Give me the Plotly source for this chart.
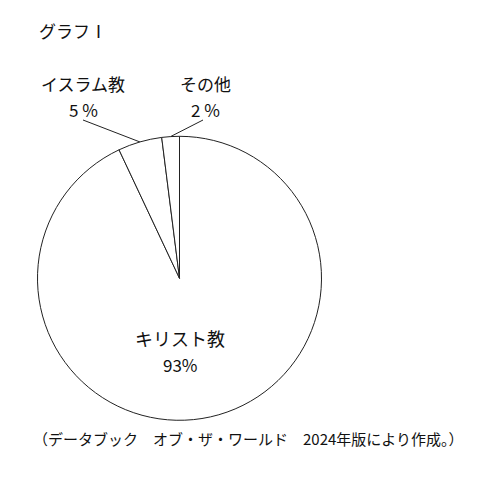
import math
import plotly.graph_objects as go

# data (clockwise from 12 o'clock)
labels = ["キリスト教", "イスラム教", "その他"]
shares = [93, 5, 2]
share_text = ["93%", "5 %", "2 %"]

title_text = "グラフⅠ"
source_text = "（データブック　オブ・ザ・ワールド　2024年版により作成。）"

W, H = 496, 487
OFF = 8  # page body margin
FONT = "Noto Sans CJK JP"
INK = "#111111"

# pie geometry in page pixels
cx, cy, R = 179.5, 278.3, 142.0


def px(x):
    return (x - OFF) / W


def py(y):
    return 1 - (y - OFF) / H


def add_text(fig, x, y, text, size, xanchor="center"):
    fig.add_annotation(x=px(x), y=py(y), xref="paper", yref="paper",
                       xanchor=xanchor, yanchor="middle",
                       text=text, showarrow=False,
                       font=dict(family=FONT, size=size, color=INK))


fig = go.Figure(go.Pie(
    labels=labels,
    values=shares,
    sort=False,
    direction="clockwise",
    rotation=0,
    textinfo="none",
    hoverinfo="label+percent",
    marker=dict(colors=["white"] * 3, line=dict(color="#222222", width=1)),
    domain=dict(x=[px(cx - R), px(cx + R)], y=[py(cy + R), py(cy - R)]),
))

# outside labels with leader lines for the small slices
label_pos = {"その他": (205, 84), "イスラム教": (83, 84)}
line_start = {"その他": (203, 120), "イスラム教": (83, 120)}

total = sum(shares)
cum = 0
for lab, val, txt in zip(labels, shares, share_text):
    mid = (cum + val / 2) / total * 2 * math.pi
    cum += val
    if lab not in label_pos:
        continue
    ex = cx + R * math.sin(mid)
    ey = cy - R * math.cos(mid)
    sx, sy = line_start[lab]
    fig.add_shape(type="line", xref="paper", yref="paper",
                  x0=px(sx), y0=py(sy), x1=px(ex), y1=py(ey),
                  line=dict(color="#222222", width=1))
    lx, ly = label_pos[lab]
    add_text(fig, lx, ly, lab, 17)
    add_text(fig, lx, ly + 25, txt, 17)

# big slice label inside
add_text(fig, 180, 338, labels[0], 18)
add_text(fig, 180, 364, share_text[0], 17)

add_text(fig, 37, 30, title_text, 17, xanchor="left")
add_text(fig, 248, 438, source_text, 15)

fig.update_layout(
    width=W, height=H,
    margin=dict(l=0, r=0, t=0, b=0),
    showlegend=False,
    paper_bgcolor="white",
    plot_bgcolor="white",
)

fig.write_html("out.html")
